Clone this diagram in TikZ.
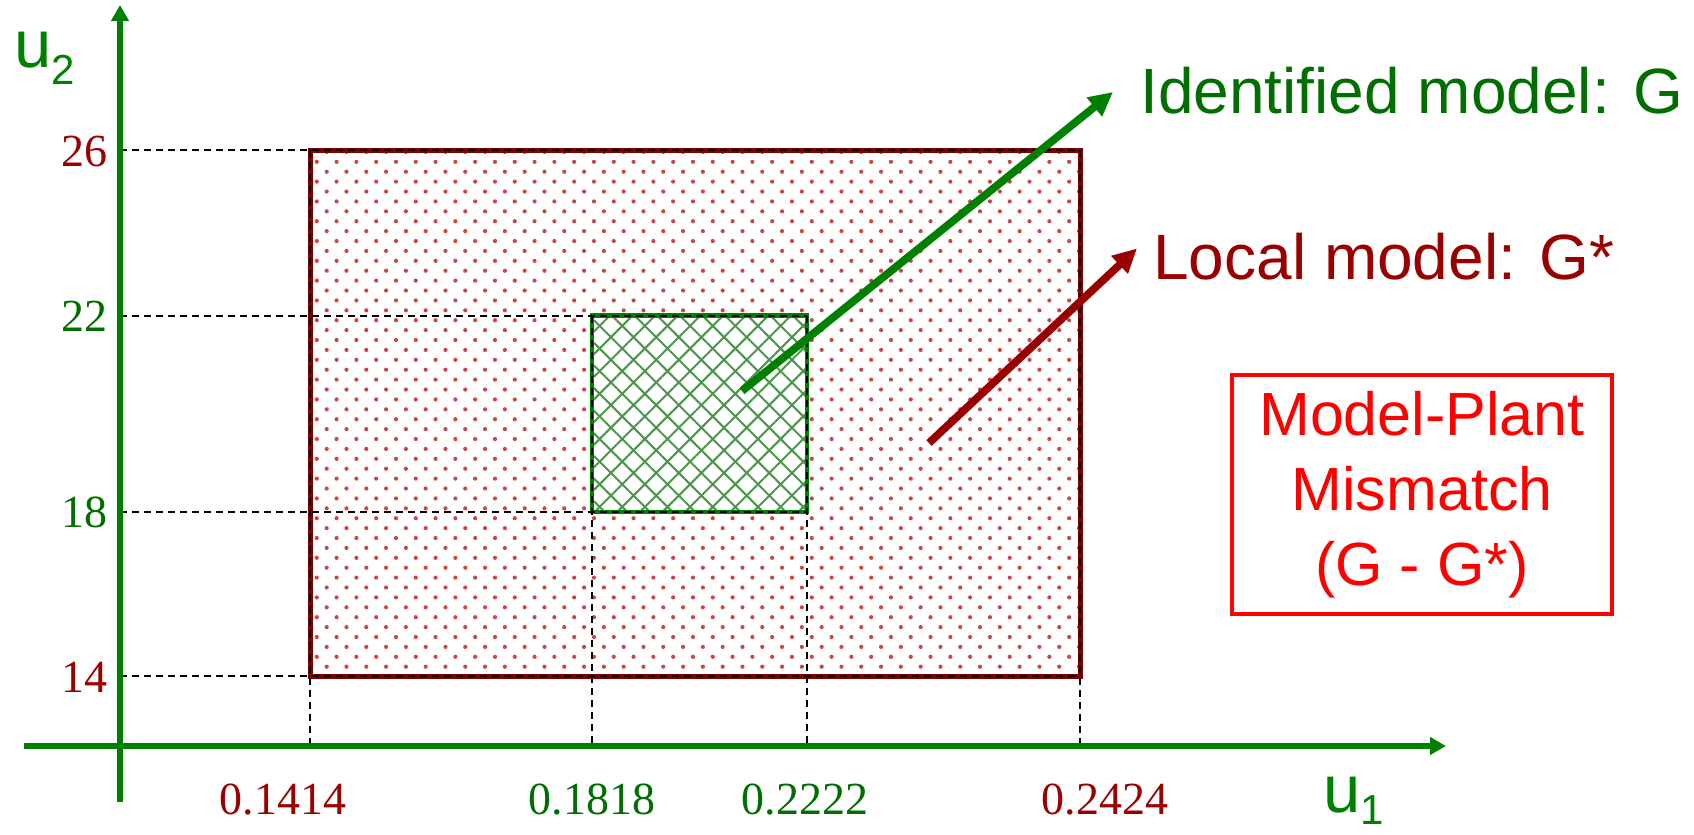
\documentclass[tikz,border=0pt]{standalone}
\usepackage{fontspec}
\setmainfont{Liberation Serif}
\newfontfamily\sansf{Liberation Sans}
\usetikzlibrary{arrows.meta,patterns.meta}
\definecolor{axgreen}{RGB}{0,128,0}
\definecolor{txgreen}{RGB}{0,110,0}
\definecolor{dred}{RGB}{153,0,0}
\definecolor{bred}{RGB}{128,0,0}
\definecolor{hatchgreen}{RGB}{75,150,75}
\definecolor{dotred}{RGB}{205,70,70}
\tikzset{
  axisline/.style={axgreen, line width=2.6pt, -{Triangle[length=8pt,width=8.5pt]}},
  guide/.style={black, line width=1pt, dash pattern=on 3.5pt off 2.5pt},
  ticklab/.style={font=\fontsize{23}{23}\selectfont, inner sep=0pt},
  bigarrow/.style={line width=3.9pt, -{Triangle[length=12pt,width=11.5pt]}},
  sanslab/.style={font=\sansf\fontsize{32}{32}\selectfont, inner sep=0pt},
  boxlab/.style={font=\sansf\fontsize{30.5}{37.5}\selectfont, align=center, draw=red, text=red, line width=2pt,
    minimum width=190pt, minimum height=119.5pt, inner sep=0pt},
  ulab/.style={axgreen, inner sep=0pt, anchor=base west}
}
\begin{document}
\begin{tikzpicture}[x=0.5pt,y=-0.5pt]
\useasboundingbox (0,0) rectangle (1694,835);
% key coordinates
\coordinate (O) at (120,746);
\coordinate (xL) at (24,746);
\coordinate (xR) at (1446,746);
\coordinate (yB) at (120,802);
\coordinate (yT) at (120,5);
\coordinate (B1) at (310,150);
\coordinate (B2) at (1080,676);
\coordinate (G1) at (592,315.5);
\coordinate (G2) at (807,512);
% big region: dotted
\fill[pattern={Dots[distance=7pt,radius=1.05pt,angle=45]}, pattern color=dotred] (B1) rectangle (B2);
% small region: crosshatch
\fill[white] (G1) rectangle (G2);
\fill[pattern={Lines[angle=45,distance=8pt,line width=1pt]}, pattern color=hatchgreen] (G1) rectangle (G2);
\fill[pattern={Lines[angle=-45,distance=8pt,line width=1pt]}, pattern color=hatchgreen] (G1) rectangle (G2);
% borders
\draw[bred, line width=2.5pt] (B1) rectangle (B2);
\draw[axgreen, line width=2.4pt] (G1) rectangle (G2);
% guide lines
\draw[guide] (O |- B1) -- (B2 |- B1);
\draw[guide] (O |- G1) -- (G2 |- G1);
\draw[guide] (O |- G2) -- (G2);
\draw[guide] (O |- B2) -- (B2);
\draw[guide] (B1) -- (B1 |- O);
\draw[guide] (G1) -- (G1 |- O);
\draw[guide] (G2 |- G1) -- (G2 |- O);
\draw[guide] (B2 |- B1) -- (B2 |- O);
% axes
\draw[axisline] (xL) -- (xR);
\draw[axisline] (yB) -- (yT);
% axis names
\node[ulab] (u2) at (14,68) {\sansf\fontsize{33.5}{33.5}\selectfont u\raisebox{-8.5pt}{\fontsize{21}{21}\selectfont 2}};
\node[ulab] (u1) at (1323,812) {\sansf\fontsize{33.5}{33.5}\selectfont u\raisebox{-6pt}{\fontsize{21}{21}\selectfont 1}};
% tick labels
\node[ticklab, dred, anchor=east] (t26) at (108,151) {26};
\node[ticklab, txgreen, anchor=east] (t22) at (108,316) {22};
\node[ticklab, txgreen, anchor=east] (t18) at (108,512) {18};
\node[ticklab, dred, anchor=east] (t14) at (108,677) {14};
\node[ticklab, dred] (x1) at (283,800) {0.1414};
\node[ticklab, txgreen] (x2) at (592,800) {0.1818};
\node[ticklab, txgreen] (x3) at (805,800) {0.2222};
\node[ticklab, dred] (x4) at (1105,800) {0.2424};
% arrows
\coordinate (ga) at (742,391);
\coordinate (gb) at (1113,92);
\coordinate (ra) at (929,443);
\coordinate (rb) at (1137,248.5);
\draw[bigarrow, axgreen] (ga) -- (gb);
\draw[bigarrow, dred] (ra) -- (rb);
% labels
\node[sanslab, txgreen, anchor=base west] (idm) at (1140,113) {Identified model: G};
\node[sanslab, dred, anchor=base west] (loc) at (1153,279) {Local model: G*};
\node[boxlab] (mpm) at (1422,494.5) {Model-Plant\\Mismatch\\(G - G*)};
\end{tikzpicture}
\end{document}
